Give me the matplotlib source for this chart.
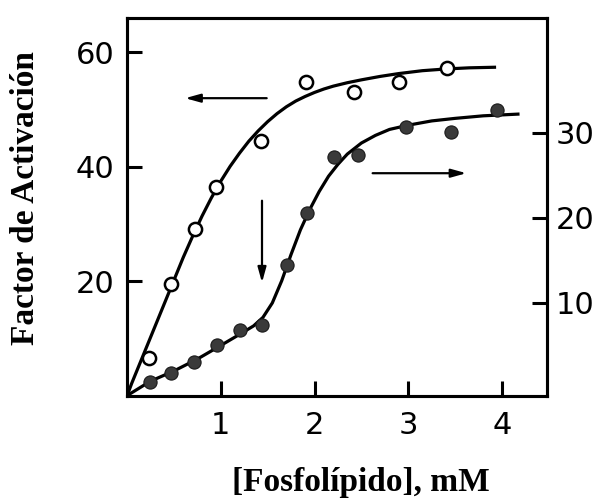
import numpy as np
import matplotlib
matplotlib.use("Agg")
import matplotlib.pyplot as plt

# =============================================================================
# DATA
# =============================================================================
# open circles, left axis (Factor de Activación)
x_open = [0.23, 0.47, 0.73, 0.95, 1.43, 1.91, 2.42, 2.90, 3.41]
y_open = [6.7, 19.6, 29.2, 36.5, 44.6, 54.8, 53.0, 54.8, 57.2]

# filled circles, right axis
x_fill = [0.25, 0.47, 0.71, 0.96, 1.21, 1.44, 1.71, 1.92, 2.21, 2.46, 2.98, 3.46, 3.95]
y_fill = [0.7, 1.8, 3.1, 5.1, 6.8, 7.4, 14.5, 20.6, 27.2, 27.4, 30.7, 30.1, 32.7]

# hand-drawn fitted curves
curve_open_x = [0, 0.05, 0.1, 0.2, 0.3, 0.4, 0.5, 0.6, 0.7, 0.8, 0.9, 1.0, 1.1,
                1.2, 1.3, 1.4, 1.5, 1.6, 1.7, 1.8, 1.9, 2.0, 2.1, 2.2, 2.35,
                2.5, 2.7, 2.9, 3.15, 3.4, 3.65, 3.92]
curve_open_y = [0, 2.2, 4.2, 8.2, 12.2, 16.2, 20.2, 24.2, 27.9, 31.4, 34.6, 37.5, 40.1,
                42.4, 44.5, 46.3, 47.9, 49.3, 50.5, 51.5, 52.3, 53.0, 53.6, 54.1, 54.7,
                55.2, 55.8, 56.3, 56.8, 57.1, 57.3, 57.4]

curve_fill_x = [0, 0.25, 0.5, 0.75, 1.0, 1.2, 1.35, 1.45, 1.55, 1.65, 1.75, 1.85,
                1.95, 2.05, 2.15, 2.25, 2.35, 2.5, 2.65, 2.8, 3.0, 3.25, 3.5,
                3.8, 4.17]
curve_fill_y = [-0.9, 0.8, 2.0, 3.4, 5.0, 6.3, 7.3, 8.3, 10.0, 12.6, 15.7, 18.6,
                21.0, 23.1, 24.9, 26.3, 27.5, 28.8, 29.7, 30.4, 30.9, 31.4, 31.7,
                32.0, 32.2]

x_ticks = [1, 2, 3, 4]
left_ticks = [20, 40, 60]
right_ticks = [10, 20, 30]

# arrows (tail -> head), in left-axis data units
arrows = [((1.49, 52.0), (0.62, 52.0)),
          ((1.44, 34.1), (1.44, 19.8)),
          ((2.62, 38.9), (3.62, 38.9))]

# =============================================================================
# PLOT
# =============================================================================
LW = 2.3
TICK_FONT = dict(family="DejaVu Sans", size=22)

fig = plt.figure(figsize=(6.01, 4.98), dpi=100)
ax = fig.add_axes([127 / 601, 102 / 498, 420 / 601, 378 / 498])
ax2 = ax.twinx()

ax.plot(curve_open_x, curve_open_y, color="black", lw=LW, zorder=2)
ax.plot(x_open, y_open, "o", ms=9.5, mfc="white", mec="black", mew=1.8, zorder=3)

ax2.plot(curve_fill_x, curve_fill_y, color="black", lw=LW, zorder=2)
ax2.plot(x_fill, y_fill, "o", ms=9.5, mfc="#3a3a3a", mec="#1a1a1a", mew=0.8, zorder=3)

for tail, head in arrows:
    ax.annotate("", xy=head, xytext=tail,
                arrowprops=dict(arrowstyle="-|>,head_length=0.9,head_width=0.25",
                                color="black", lw=1.6, shrinkA=0, shrinkB=0))

ax.set_xlim(0, 4.48)
ax.set_ylim(0, 66)
ax2.set_ylim(-0.94, 43.5)

ax.set_xticks(x_ticks)
ax.set_xticklabels([str(t) for t in x_ticks], fontdict=TICK_FONT)
ax.set_yticks(left_ticks)
ax.set_yticklabels([str(t) for t in left_ticks], fontdict=TICK_FONT)
ax2.set_yticks(right_ticks)
ax2.set_yticklabels([str(t) for t in right_ticks], fontdict=TICK_FONT)

ax.tick_params(axis="both", direction="in", length=11, width=2.2, pad=9)
ax.tick_params(axis="x", pad=11)
ax2.tick_params(axis="y", direction="in", length=11, width=2.2, pad=6)

for a in (ax, ax2):
    for sp in a.spines.values():
        sp.set_linewidth(2.2)

fig.text(26 / 601, 1 - 198 / 498, "Factor de Activación", rotation=90,
         ha="center", va="center", family="Liberation Serif",
         fontweight="bold", fontsize=24)
fig.text(361 / 601, 1 - 482 / 498, "[Fosfolípido], mM",
         ha="center", va="center", family="Liberation Serif",
         fontweight="bold", fontsize=24)

fig.savefig("out.png", dpi=100)
